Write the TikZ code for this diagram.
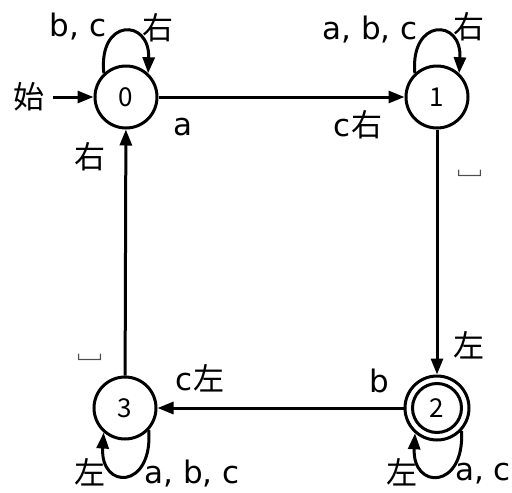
\documentclass[tikz,border=0pt]{standalone}
\usepackage{fontspec}
\setmainfont{DejaVu Sans}
\newfontfamily\jp{Noto Sans CJK JP}
\usetikzlibrary{arrows.meta}
\begin{document}
\begin{tikzpicture}[x=1pt,y=-1pt,
  state/.style={circle,draw,line width=3pt,minimum size=62pt,inner sep=0pt,font=\jp\fontsize{26}{26}\selectfont},
  trans/.style={line width=3pt,-{Triangle[length=16pt,width=12pt]}},
  lbl/.style={inner sep=0pt,font=\fontsize{31}{31}\selectfont},
  sp/.style={inner sep=0pt,font=\jp\fontsize{31}{31}\selectfont,text=black!70}]
\useasboundingbox (0,0) rectangle (512,493);
\node[state] (n0) at (126,97) {0};
\node[state] (n1) at (437,97) {1};
\node[state,minimum size=64pt] (n2) at (437,408) {};
\node[state,minimum size=49pt] (n2in) at (437,408) {2};
\node[state] (n3) at (125,408) {3};
% start
\coordinate (s) at (53,97);
\node[lbl] (tstart) at (29,97) {\jp 始};
\draw[trans] (s) -- (n0);
% transitions
\draw[trans] (n0) -- (n1);
\draw[trans] (n1) -- (n2);
\draw[trans] (n2) -- (n3);
\draw[trans] (n3) -- (n0);
% loops
\draw[trans] (n0.133) .. controls (98,18) and (150,18) .. (n0.47);
\draw[trans] (n1.133) .. controls (410,18) and (462,18) .. (n1.47);
\draw[trans] (n3.-43) .. controls (153,490) and (100,490) .. (n3.-131);
\draw[trans] (n2.-43) .. controls (465,490) and (412,490) .. (n2.-131);
% labels
\node[lbl] (l0a) at (78,27) {b, c};
\node[lbl] (l0b) at (158,28) {\jp 右};
\node[lbl] (l1a) at (370,30) {a, b, c};
\node[lbl] (l1b) at (469,27) {\jp 右};
\node[lbl] (e01a) at (183,127) {a};
\node[lbl] (e01b) at (358,125) {c{\jp 右}};
\node[sp] (e12a) at (470,173) {␣};
\node[lbl] (e12b) at (469,345) {\jp 左};
\node[lbl] (e23a) at (379,381) {b};
\node[lbl] (e23b) at (200,378) {c{\jp 左}};
\node[sp] (e30a) at (90,357) {␣};
\node[lbl] (e30b) at (90,157) {\jp 右};
\node[lbl] (l3a) at (90,472) {\jp 左};
\node[lbl] (l3b) at (192,474) {a, b, c};
\node[lbl] (l2a) at (402,472) {\jp 左};
\node[lbl] (l2b) at (483,474) {a, c};
\end{tikzpicture}
\end{document}
